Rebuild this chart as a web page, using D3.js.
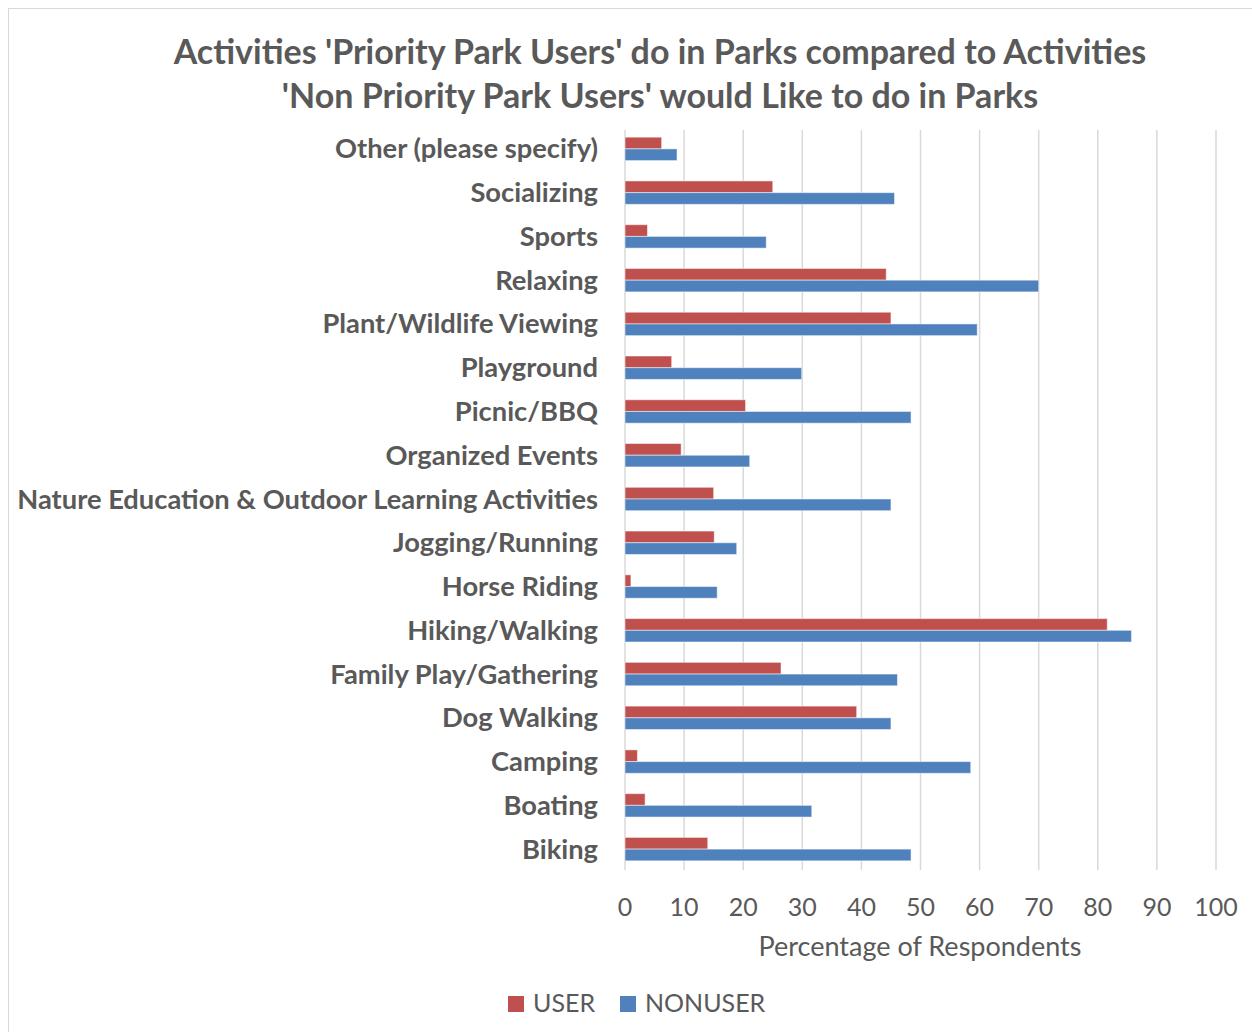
<!DOCTYPE html>
<html><head><meta charset="utf-8">
<script src="https://cdn.jsdelivr.net/npm/d3@7"></script>
<style>
body{margin:0;background:#fff;}
svg{display:block;font-family:Lato, "Noto Sans", sans-serif;}
</style></head>
<body>
<svg id="c" width="1252" height="1032"></svg>
<script>
const categories = ["Other (please specify)","Socializing","Sports","Relaxing","Plant/Wildlife Viewing","Playground","Picnic/BBQ","Organized Events","Nature Education & Outdoor Learning Activities","Jogging/Running","Horse Riding","Hiking/Walking","Family Play/Gathering","Dog Walking","Camping","Boating","Biking"];
const userValues    = [6.2,25.0,3.8,44.2,45.0,7.9,20.4,9.5,15.0,15.1,1.0,81.6,26.4,39.2,2.1,3.4,14.0];
const nonuserValues = [8.8,45.6,23.9,70.0,59.6,29.9,48.4,21.1,45.0,18.9,15.6,85.7,46.1,45.0,58.5,31.6,48.4];
const seriesNames = ["USER","NONUSER"];
const seriesColors = ["#C0504D","#4F81BD"];
const xTicks = [0,10,20,30,40,50,60,70,80,90,100];
const titleLines = ["Activities 'Priority Park Users' do in Parks compared to Activities","'Non Priority Park Users' would Like to do in Parks"];
const xAxisTitle = "Percentage of Respondents";

const svg = d3.select("#c");
const textColor = "#595959";

// chart border
svg.append("rect").attr("x",8.5).attr("y",8.5).attr("width",1260).attr("height",1040)
  .attr("fill","#fff").attr("stroke","#d9d9d9").attr("stroke-width",1);

const x = d3.scaleLinear().domain([0,100]).range([625,1216]);
const y = d3.scaleBand().domain(categories).range([127,871]).paddingInner(0.465).paddingOuter(0.2325);
const ys = d3.scaleBand().domain(seriesNames).range([0,y.bandwidth()]);

// gridlines
svg.append("g").selectAll("line").data(xTicks).join("line")
  .attr("x1",d=>x(d)).attr("x2",d=>x(d)).attr("y1",130).attr("y2",870)
  .attr("stroke","#d9d9d9").attr("stroke-width",1.5);

// bars
const data = categories.map((c,i)=>({c, vals:[userValues[i], nonuserValues[i]]}));
const g = svg.append("g");
data.forEach(d=>{
  seriesNames.forEach((s,j)=>{
    g.append("rect")
      .attr("x",x(0)).attr("y",y(d.c)+ys(s))
      .attr("width",x(d.vals[j])-x(0)).attr("height",ys.bandwidth())
      .attr("fill",seriesColors[j]).attr("stroke","rgba(255,255,255,0.5)").attr("stroke-width",1);
  });
});

// category labels
svg.append("g").selectAll("text").data(categories).join("text")
  .attr("x",598).attr("y",d=>y(d)+y.bandwidth()/2).attr("dy","0.35em")
  .attr("text-anchor","end").attr("font-size",27.3).attr("font-weight",700).attr("fill",textColor)
  .text(d=>d);

// x axis tick labels
svg.append("g").selectAll("text").data(xTicks).join("text")
  .attr("x",d=>x(d)).attr("y",916).attr("text-anchor","middle")
  .attr("font-size",25).attr("fill",textColor).text(d=>d);

svg.append("text").attr("x",920).attr("y",956).attr("text-anchor","middle")
  .attr("font-size",27).attr("fill",textColor).text(xAxisTitle);

// title
svg.append("g").selectAll("text").data(titleLines).join("text")
  .attr("x",660).attr("y",(d,i)=>64+i*44).attr("text-anchor","middle")
  .attr("font-size",34).attr("font-weight",700).attr("fill",textColor).text(d=>d);

// legend
const leg = svg.append("g");
const legX = [508,620];
seriesNames.forEach((s,j)=>{
  leg.append("rect").attr("x",legX[j]).attr("y",996).attr("width",16).attr("height",16).attr("fill",seriesColors[j]);
  leg.append("text").attr("x",legX[j]+25).attr("y",1012).attr("font-size",25).attr("fill",textColor).text(s);
});
</script>
</body></html>
